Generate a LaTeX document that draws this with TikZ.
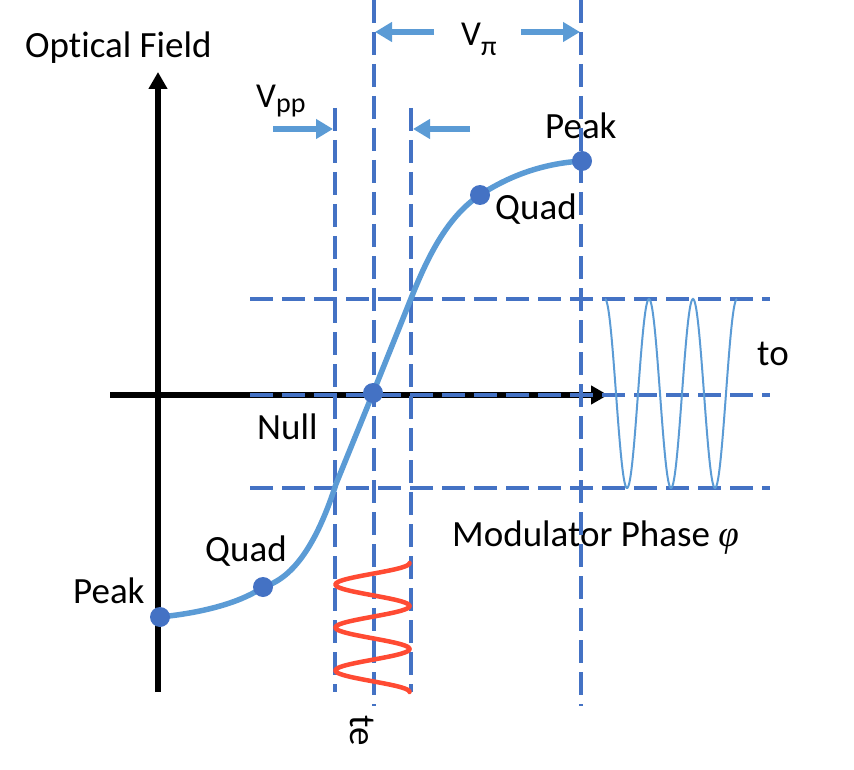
\documentclass[tikz,border=0pt]{standalone}
\usepackage{fontspec}
\setmainfont{Carlito}[Ligatures=NoCommon]
\newfontfamily\phifont{Liberation Serif}
\usetikzlibrary{arrows.meta}
\definecolor{curveblue}{HTML}{5B9BD5}
\definecolor{dashblue}{HTML}{4472C4}
\definecolor{wavered}{HTML}{FF4B33}
\begin{document}
\begin{tikzpicture}[x=1pt,y=-1pt,
  lbl/.style={inner sep=0pt, anchor=base west, font=\fontsize{37}{44}\selectfont},
  vlbl/.style={inner sep=0pt, anchor=base west, font=\fontsize{35}{42}\selectfont},
  axisline/.style={line width=5.5pt, -{Triangle[length=17pt,width=18pt]}},
  guide/.style={dashblue, line width=3.2pt, dash pattern=on 23pt off 9pt},
  spanarrow/.style={curveblue, line width=6.5pt, -{Triangle[length=17pt,width=19pt]}},
  dot/.style={circle, fill=dashblue, minimum size=20pt, inner sep=0pt},
]
\useasboundingbox (0,0) rectangle (854,770);

% labels
\node[lbl] (tOF) at (25,58) {Optical Field};
\node[lbl] (tPk2) at (545,139) {Peak};
\node[lbl] (tQd2) at (495,219) {Quad};
\node[lbl] (tNl) at (257,439) {Null};
\node[lbl] (tQd1) at (205,561) {Quad};
\node[lbl] (tPk1) at (73,603) {Peak};
\node[lbl] (tTo) at (757,365) {to};
\node[lbl] (tMP) at (452,546) {Modulator Phase {\phifont\itshape φ}};
\node[inner sep=0pt, rotate=-90, font=\fontsize{37}{44}\selectfont] (tTe) at (362,731) {te};
\node[vlbl] (tVpi) at (461,46) {V\raisebox{-10pt}{\fontsize{28}{32}\selectfont π}};
\node[vlbl] (tVpp) at (256,108) {V\raisebox{-5pt}{\fontsize{28}{32}\selectfont pp}};

% axes
\coordinate (yb) at (158,692);
\coordinate (yt) at (158,72);
\coordinate (xl) at (110,395);
\coordinate (xr) at (608,395);
\draw[axisline] (yb) -- (yt);
\draw[axisline] (xl) -- (xr);

% dashed guides
\draw[guide] (335,108) -- (335,692);
\draw[guide] (374,0) -- (374,706);
\draw[guide] (411,108) -- (411,692);
\draw[guide] (581,0) -- (581,706);
\draw[guide] (250,299) -- (770,299);
\draw[guide] (250,395) -- (770,395);
\draw[guide] (250,488) -- (770,488);

% transfer curve
\coordinate (P1) at (160,617);
\coordinate (Q1) at (263,587);
\coordinate (N0) at (373,393);
\coordinate (Q2) at (480,195);
\coordinate (P2) at (582,161);
\coordinate (L1) at (336,484);
\coordinate (L2) at (410,301);
\draw[curveblue, line width=5.5pt]
  (P1) .. controls (210,612) and (245,600) .. (Q1)
       .. controls (295,578) and (318,540) .. (L1)
       -- (N0) -- (L2)
       .. controls (430,250) and (450,215) .. (Q2)
       .. controls (515,172) and (550,163) .. (P2);

% output waveform
\draw[curveblue, line width=2pt] plot[domain=0:132, samples=160, smooth]
  ({605+\x},{393.5-94.5*cos(8.1818*\x)});

% drive waveform
\draw[wavered, line width=4.5pt, line cap=round] plot[domain=0:129, samples=160, smooth]
  ({372.5+37*cos(8.3721*\x)},{563+\x});

% span arrows
\coordinate (a1s) at (434,32); \coordinate (a1e) at (375,32);
\coordinate (a2s) at (521,32); \coordinate (a2e) at (580,32);
\coordinate (b1s) at (273,129); \coordinate (b1e) at (333,129);
\coordinate (b2s) at (470,129); \coordinate (b2e) at (413,129);
\draw[spanarrow] (a1s) -- (a1e);
\draw[spanarrow] (a2s) -- (a2e);
\draw[spanarrow] (b1s) -- (b1e);
\draw[spanarrow] (b2s) -- (b2e);

% dots
\node[dot] (dP1) at (P1) {};
\node[dot] (dQ1) at (Q1) {};
\node[dot] (dN0) at (N0) {};
\node[dot] (dQ2) at (Q2) {};
\node[dot] (dP2) at (P2) {};
\end{tikzpicture}
\end{document}
